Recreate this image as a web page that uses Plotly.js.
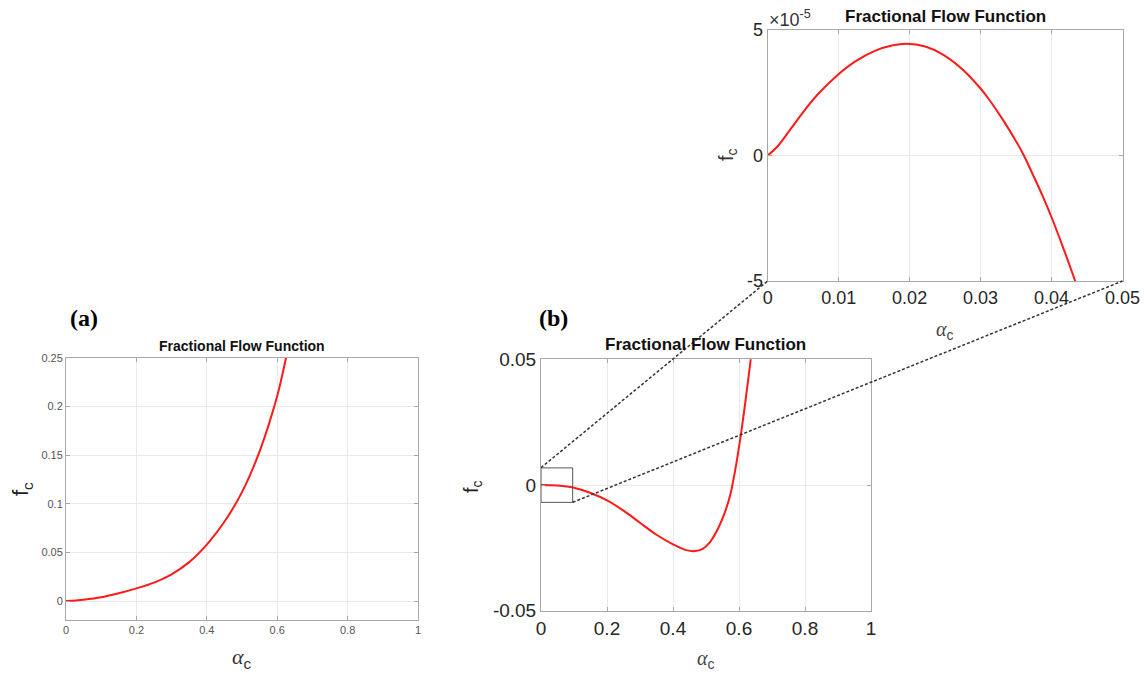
<!DOCTYPE html>
<html>
<head>
<meta charset="utf-8">
<script src="https://cdn.plot.ly/plotly-3.0.1.min.js"></script>
<style>html,body{margin:0;padding:0;background:#fff}#chart{width:1144px;height:673px}</style>
</head>
<body>
<div id="chart"></div>
<script>
// ---------- data ----------
// panel (a)
const alphaA = [0, 0.05, 0.1, 0.15, 0.2, 0.25, 0.3, 0.35, 0.4, 0.45, 0.5, 0.55, 0.6, 0.625, 0.64];
const fcA    = [0, 0.0014, 0.0038, 0.0080, 0.0130, 0.0190, 0.0275, 0.0400, 0.0580, 0.0815, 0.1120, 0.1540, 0.2110, 0.2500, 0.2760];
// panel (b)
const alphaB = [0, 0.05, 0.1, 0.15, 0.2, 0.25, 0.3, 0.35, 0.4, 0.44, 0.467, 0.49, 0.512, 0.537, 0.558, 0.573, 0.58, 0.593, 0.606, 0.618, 0.628, 0.636, 0.645];
const fcB    = [0, -0.0002, -0.0011, -0.0032, -0.0061, -0.0102, -0.0150, -0.0198, -0.0236, -0.0259, -0.0263, -0.0254, -0.0227, -0.0172, -0.0106, -0.0042, 0, 0.0093, 0.0203, 0.0318, 0.0420, 0.0505, 0.0600];
// zoomed inset
const alphaC = [0, 0.0015, 0.0034, 0.0053, 0.0071, 0.0099, 0.0123, 0.0151, 0.0175, 0.0196, 0.0222, 0.0247, 0.0275, 0.03, 0.0311, 0.0332, 0.0351, 0.0361, 0.0374, 0.0388, 0.04, 0.0417, 0.0433, 0.0444];
const fcC    = [0, 0.40e-5, 1.12e-5, 1.84e-5, 2.45e-5, 3.22e-5, 3.74e-5, 4.17e-5, 4.38e-5, 4.45e-5, 4.34e-5, 4.02e-5, 3.42e-5, 2.67e-5, 2.27e-5, 1.40e-5, 0.52e-5, 0, -0.78e-5, -1.65e-5, -2.46e-5, -3.72e-5, -4.97e-5, -5.85e-5];

// ticks
const xTicksAB = [0, 0.2, 0.4, 0.6, 0.8, 1];
const xTickTextAB = ['0', '0.2', '0.4', '0.6', '0.8', '1'];
const yTicksA = [0, 0.05, 0.1, 0.15, 0.2, 0.25];
const yTickTextA = ['0', '0.05', '0.1', '0.15', '0.2', '0.25'];
const yTicksB = [-0.05, 0, 0.05];
const yTickTextB = ['-0.05', '0', '0.05'];
const xTicksC = [0, 0.01, 0.02, 0.03, 0.04, 0.05];
const xTickTextC = ['0', '0.01', '0.02', '0.03', '0.04', '0.05'];
const yTicksC = [-5e-5, 0, 5e-5];
const yTickTextC = ['-5', '0', '5'];

const titleText = 'Fractional Flow Function';
const expText = '×10<sup>-5</sup>';

// ---------- layout helpers ----------
const W = 1144, H = 673;
const px = x => x / W;
const py = y => 1 - y / H;

const SANS = 'Liberation Sans, Arial, sans-serif';
const SERIF = 'Liberation Serif, Times New Roman, serif';
const boxColor = '#a8a8a8';
const gridColor = '#e9e9e9';
const RED = '#ff1a1a';

function axis(domain, range, tickvals, ticktext, fontSize, fontColor, anchor) {
  return {
    domain: domain, range: range, tickvals: tickvals, ticktext: ticktext,
    anchor: anchor, showgrid: true, gridcolor: gridColor, gridwidth: 1,
    zeroline: false, showline: true, linecolor: boxColor, linewidth: 1, mirror: 'ticks',
    ticks: 'inside', ticklen: 4, tickcolor: boxColor,
    tickfont: {family: SANS, size: fontSize, color: fontColor},
    fixedrange: true
  };
}

const alphaLabel = '<span style="font-family:Liberation Serif;font-style:italic">α</span><sub>c</sub>';

const lineStyle = {color: RED, width: 2, shape: 'spline', smoothing: 1};
const traces = [
  {x: alphaA, y: fcA, xaxis: 'x', yaxis: 'y', mode: 'lines', line: lineStyle, hoverinfo: 'skip'},
  {x: alphaB, y: fcB, xaxis: 'x2', yaxis: 'y2', mode: 'lines', line: lineStyle, hoverinfo: 'skip'},
  {x: alphaC, y: fcC, xaxis: 'x3', yaxis: 'y3', mode: 'lines', line: lineStyle, hoverinfo: 'skip'}
];

const dA = {x: [px(66), px(418)], y: [py(619.5), py(358)]};
const dB = {x: [px(541), px(871)], y: [py(610.7), py(359.3)]};
const dC = {x: [px(767.7), px(1122.5)], y: [py(281), py(30)]};

function ann(text, x, y, size, opts) {
  return Object.assign({text: text, x: px(x), y: py(y), xref: 'paper', yref: 'paper',
    showarrow: false, xanchor: 'center', yanchor: 'middle',
    font: {family: SANS, size: size, color: '#1a1a1a'}}, opts || {});
}

const layout = {
  width: W, height: H,
  margin: {l: 0, r: 0, t: 0, b: 0, pad: 0},
  paper_bgcolor: '#fff', plot_bgcolor: '#fff',
  showlegend: false,
  xaxis: axis(dA.x, [0, 1], xTicksAB, xTickTextAB, 11, '#555', 'y'),
  yaxis: axis(dA.y, [-0.019, 0.25], yTicksA, yTickTextA, 11, '#555', 'x'),
  xaxis2: axis(dB.x, [0, 1], xTicksAB, xTickTextAB, 19, '#262626', 'y2'),
  yaxis2: axis(dB.y, [-0.05, 0.05], yTicksB, yTickTextB, 19, '#262626', 'x2'),
  xaxis3: axis(dC.x, [0, 0.05], xTicksC, xTickTextC, 18, '#262626', 'y3'),
  yaxis3: axis(dC.y, [-5e-5, 5e-5], yTicksC, yTickTextC, 18, '#262626', 'x3'),
  annotations: [
    ann('<b>' + titleText + '</b>', 242, 346, 14, {font: {family: SANS, size: 14, color: '#111'}}),
    ann('<b>' + titleText + '</b>', 706, 345, 17, {font: {family: SANS, size: 17, color: '#111'}}),
    ann('<b>' + titleText + '</b>', 945, 16, 17, {font: {family: SANS, size: 17, color: '#111'}}),
    ann('<b>(a)</b>', 84, 318, 24, {font: {family: SERIF, size: 24, color: '#000'}}),
    ann('<b>(b)</b>', 553, 318, 24, {font: {family: SERIF, size: 24, color: '#000'}}),
    ann(alphaLabel, 242, 658, 22, {font: {family: SANS, size: 22, color: '#333'}}),
    ann('f<sub>c</sub>', 22, 489, 22, {textangle: -90, font: {family: SANS, size: 22, color: '#222'}}),
    ann(alphaLabel, 706, 659, 20, {font: {family: SANS, size: 20, color: '#444'}}),
    ann('f<sub>c</sub>', 472, 487, 20, {textangle: -90, font: {family: SANS, size: 20, color: '#222'}}),
    ann(alphaLabel, 945, 330, 20, {font: {family: SANS, size: 20, color: '#444'}}),
    ann('f<sub>c</sub>', 728, 155, 20, {textangle: -90, font: {family: SANS, size: 20, color: '#333'}}),
    ann(expText, 767, 18, 18, {xanchor: 'left', font: {family: SANS, size: 18, color: '#333'}})
  ],
  shapes: [
    {type: 'rect', xref: 'x2', yref: 'y2', x0: 0, x1: 0.096, y0: -0.0069, y1: 0.0068,
     line: {color: '#555', width: 1}, layer: 'above'},
    {type: 'line', xref: 'paper', yref: 'paper', x0: px(541), y0: py(467.7), x1: px(767.7), y1: py(281),
     line: {color: '#333', width: 1.5, dash: '3px,2px'}, layer: 'above'},
    {type: 'line', xref: 'paper', yref: 'paper', x0: px(572.7), y0: py(502.3), x1: px(1122.5), y1: py(281),
     line: {color: '#333', width: 1.5, dash: '3px,2px'}, layer: 'above'}
  ]
};

Plotly.newPlot('chart', traces, layout, {staticPlot: true, displayModeBar: false});
</script>
</body>
</html>
